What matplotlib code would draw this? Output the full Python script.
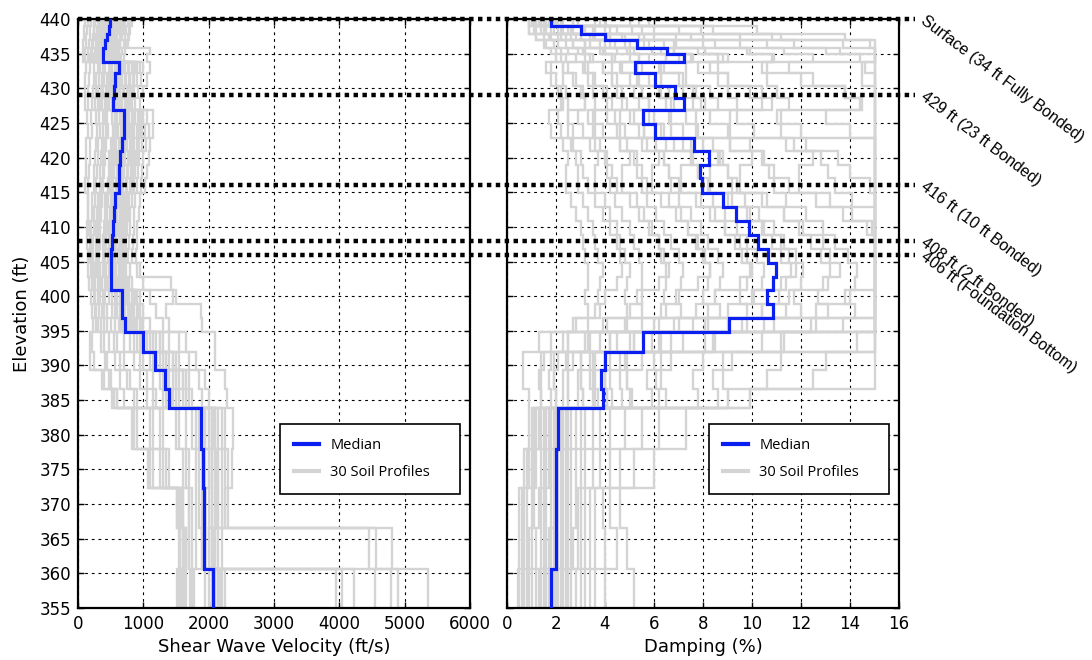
import numpy as np
import matplotlib
matplotlib.use("Agg")
import matplotlib.pyplot as plt
from matplotlib.lines import Line2D
from matplotlib.transforms import blended_transform_factory

# ---------------- data ----------------
# layer boundaries (elevation, ft), top to bottom -> 35 layers
layer_elev = [440, 439, 437.8, 436.9, 435.8, 434.9, 433.8, 432.2, 430.3, 428.6, 426.9,
              424.8, 422.8, 420.9, 418.9, 417, 414.9, 412.9, 410.9, 408.8, 406.8, 404.8,
              402.8, 400.9, 398.8, 396.9, 394.9, 392.0, 389.4, 386.6, 383.8, 377.9,
              372.3, 366.5, 360.6, 355]

vs_median = [490, 470, 440, 410, 390, 385, 628, 570, 545, 540, 704, 704, 669, 640, 630, 625,
             560, 545, 535, 520, 510, 505, 500, 679, 670, 720, 990, 1179, 1332, 1398,
             1883, 1919, 1935, 1935, 2072]

damp_median = [1.78, 3.02, 4.01, 5.29, 6.52, 7.24, 5.22, 6.04, 6.86, 7.24, 5.54, 6.04, 7.63,
               8.26, 7.88, 7.94, 8.83, 9.35, 9.89, 10.26, 10.67, 10.98, 10.87, 10.6, 10.87,
               9.07, 5.56, 4.0, 3.84, 3.9, 2.09, 2.0, 2.0, 2.0, 1.8]

vs_profiles = [
    [150,140,130,120,110,100, 180,170,160,150,200,210,190,180,170,160, 150,150,140,140,150,160,170, 200,210,230,180,190,360,520, 822,1077,1510,1550,1520],
    [250,240,230,210,200,190, 300,280,270,260,320,330,310,300,290,280, 260,250,240,230,230,240,260, 300,320,350,400,450,500,600, 900,1150,1550,1600,1580],
    [350,330,310,290,280,270, 420,400,380,370,450,460,430,410,400,390, 360,350,340,330,320,330,360, 420,450,500,600,700,800,900, 1300,1400,1600,1650,1620],
    [420,400,380,360,340,330, 500,470,450,430,560,570,530,510,500,490, 440,430,420,410,400,410,440, 520,560,620,800,950,1050,1150, 1550,1650,1700,1700,1750],
    [480,460,440,420,400,390, 600,560,540,520,650,660,620,600,590,580, 520,510,500,490,480,490,520, 640,660,700,950,1150,1300,1350, 1800,1850,1850,1900,2000],
    [550,530,500,480,460,450, 650,610,590,570,720,730,690,660,650,640, 570,560,550,540,530,540,560, 700,720,760,1050,1250,1400,1450, 1900,1950,1950,1950,2100],
    [600,580,560,540,520,500, 720,680,650,620,780,790,750,720,700,690, 620,600,590,580,570,580,610, 760,800,850,1150,1350,1500,1550, 2000,2050,2050,2000,3950],
    [650,630,600,580,560,550, 780,740,700,680,840,860,820,790,770,750, 680,660,650,640,630,640,680, 850,900,950,1250,1450,1600,1650, 2100,2150,2150,2100,4220],
    [720,700,680,650,630,620, 850,800,770,740,920,940,900,860,840,820, 740,720,710,700,690,700,740, 950,1000,1100,1400,1550,1700,1750, 2150,2200,2200,2150,4550],
    [800,780,760,740,720,700, 950,900,860,830,1000,1020,980,940,920,900, 820,800,790,780,770,790,830, 1100,1200,1300,1550,1700,1850,1900, 2250,2300,2250,4450,4790],
    [820,800,780,760,1100,1050, 1100,1050,1000,950,1150,1150,1100,1080,1050,1030, 950,930,910,900,890,950,1000, 1500,1880,1900,2100,2100,2250,2280, 2380,2350,2300,4560,4900],
    [300,290,280,270,260,250, 380,360,350,340,420,430,400,390,380,370, 330,320,310,300,300,310,330, 380,400,450,550,650,750,850, 1250,1350,1600,1650,1650],
    [200,190,180,170,160,150, 250,240,230,220,280,290,270,260,250,240, 220,210,200,200,200,210,230, 260,280,300,350,420,480,550, 1100,1250,1550,1600,1580],
    [100,90,85,80,80,75, 120,110,100,100,140,150,130,120,120,110, 150,160,170,180,190,200,210, 240,260,280,220,250,400,600, 850,1100,1520,1560,1540],
    [380,370,360,350,340,330, 560,530,500,480,600,610,580,560,550,540, 500,490,480,470,460,470,500, 600,640,680,900,1100,1250,1300, 1750,1800,1800,1800,4040],
    [460,440,420,400,390,380, 680,640,610,590,740,750,720,690,670,650, 600,590,580,570,560,570,600, 730,760,800,1000,1200,1350,1400, 1950,2000,2000,4800,5350],
    [520,500,480,460,450,440, 580,560,540,520,680,690,650,630,620,600, 560,550,540,530,520,530,560, 680,700,740,1000,1200,1350,1400, 1850,1900,1900,1900,1950],
    [560,540,520,500,480,470, 700,660,640,610,760,770,740,710,690,680, 610,600,590,580,570,580,620, 740,780,820,1100,1300,1450,1500, 1950,2000,1950,1950,2050],
    [400,380,370,360,350,340, 620,600,580,560,700,720,690,660,640,630, 540,530,520,510,500,510,540, 660,690,720,980,1180,1330,1400, 1880,1920,1930,1930,2070],
    [440,420,400,380,370,360, 640,600,570,550,720,700,680,650,630,620, 550,540,530,520,510,520,550, 670,690,730,990,1190,1340,1400, 1890,1930,1940,1940,2080],
    [480,450,430,410,390,380, 610,580,560,540,690,700,670,640,620,610, 570,560,550,530,520,520,500, 690,700,720,1000,1200,1320,1390, 1870,1910,1930,1930,2060],
    [500,480,460,430,420,400, 660,620,600,560,710,720,690,660,640,630, 580,570,560,540,530,530,510, 700,710,740,1010,1180,1350,1420, 1900,1930,1950,1950,2090],
    [330,320,310,300,290,280, 470,450,430,410,520,530,500,480,470,460, 420,410,400,390,380,390,420, 480,520,560,700,850,950,1050, 1500,1600,1700,1700,1720],
    [620,600,580,560,540,530, 820,780,750,720,880,900,860,830,810,790, 700,690,680,670,660,670,700, 820,860,900,1200,1400,1550,1600, 2050,2100,2100,2050,2150],
    [700,680,660,640,620,600, 900,860,820,790,960,980,940,900,880,860, 780,760,750,740,730,740,780, 900,950,1000,1300,1500,1650,1700, 2100,2150,2150,2100,2200],
    [760,740,720,700,680,660, 1000,960,920,880,1050,1080,1040,1000,980,960, 880,860,850,840,830,900,1430, 1450,1350,1400,1650,1800,1950,2000, 2200,2250,2250,2200,2250],
    [260,250,240,230,220,210, 340,320,310,300,380,390,360,350,340,330, 300,290,280,270,270,280,300, 340,360,400,480,560,650,700, 1150,1300,1580,1620,1600],
    [580,560,540,520,500,490, 760,720,690,660,820,830,800,770,750,730, 650,640,630,620,610,620,650, 780,820,870,1150,1350,1500,1550, 2000,2050,2050,2000,2100],
    [680,660,640,610,590,580, 880,840,800,770,940,960,920,880,860,840, 760,740,730,720,710,720,760, 880,930,980,1250,1450,1600,1650, 2080,2120,2120,2080,2180],
    [360,350,340,330,320,310, 520,500,480,460,570,580,550,530,520,510, 460,450,440,430,420,430,460, 560,600,640,850,1000,1150,1200, 1650,1700,1750,1750,1780],
]

damp_profiles = [
    [0.9,0.9,1.2,1.6,2.0,2.2,1.6,1.8,2.1,2.2, 1.7,1.8,2.3,2.5,2.4,2.4,2.6,2.8,3.0,3.1, 3.2,3.3,3.3,3.2,3.3,2.7, 1.3,0.65,0.65,0.9, 0.9,0.7,0.5,0.5,0.45],
    [1.0,1.1,1.5,1.9,2.2,2.4,2.3,2.3,2.4,2.5, 2.5,2.5,2.7,2.8,2.9,2.9,3.1,3.3,3.5,3.6, 3.7,3.9,3.8,3.7,3.8,3.3, 2.3,1.5,1.3,1.4, 1.0,0.8,0.6,0.6,0.5],
    [0.9,0.9,1.2,1.5,1.8,2.0,1.8,2.0,2.2,2.3, 2.1,2.2,2.6,3.0,3.1,3.3,3.6,3.9,4.2,4.5, 4.6,4.7,4.5,4.0,3.6,2.8, 1.8,1.4,1.4,1.4, 1.1,0.9,0.7,0.7,0.6],
    [1.1,1.4,1.8,2.4,2.9,3.2,2.3,2.7,3.1,3.2, 2.5,2.7,3.4,3.7,3.6,3.6,4.0,4.2,4.5,4.6, 4.8,5.0,4.9,4.8,4.9,4.1, 2.5,1.8,1.7,1.8, 1.2,1.0,0.8,0.8,0.7],
    [0.9,1.6,2.2,2.7,3.1,3.4,3.3,3.3,3.5,3.6, 3.5,3.5,3.8,4.0,4.1,4.2,4.4,4.7,5.0,5.2, 5.4,5.5,5.5,5.3,5.5,4.8, 3.3,2.1,1.9,2.0, 1.3,1.1,1.0,0.9,0.8],
    [1.2,1.2,1.7,2.1,2.5,2.8,2.5,2.8,3.0,3.2, 2.9,3.1,3.6,4.1,4.3,4.5,5.0,5.4,5.8,6.2, 6.3,6.5,6.2,5.5,5.0,3.9, 2.5,1.9,1.9,2.0, 1.4,1.2,1.1,1.0,0.9],
    [1.1,1.8,2.4,3.2,3.9,4.3,3.1,3.6,4.1,4.3, 3.3,3.6,4.6,5.0,4.7,4.7,5.3,5.6,5.9,6.2, 6.4,6.6,6.5,6.4,6.5,5.5, 3.4,2.4,2.3,2.3, 1.5,1.4,1.3,1.2,1.0],
    [1.2,2.1,2.8,3.4,4.0,4.4,4.3,4.3,4.5,4.7, 4.6,4.6,4.9,5.2,5.3,5.5,5.7,6.1,6.4,6.7, 7.0,7.2,7.1,6.9,7.1,6.2, 4.2,2.7,2.5,2.5, 1.6,1.5,1.4,1.4,1.2],
    [1.1,1.5,2.1,2.7,3.2,3.5,3.2,3.5,3.9,4.1, 3.6,3.9,4.6,5.3,5.5,5.7,6.3,6.9,7.4,7.8, 8.1,8.3,7.8,7.0,6.3,4.9, 3.2,2.5,2.5,2.5, 1.7,1.6,1.5,1.5,1.3],
    [1.4,2.3,3.0,4.0,4.9,5.4,3.9,4.5,5.2,5.4, 4.1,4.5,5.7,6.2,5.9,5.9,6.6,7.1,7.4,7.7, 8.0,8.3,8.2,8.0,8.2,6.8, 4.2,3.0,2.9,2.9, 1.8,1.7,1.6,1.6,1.4],
    [1.4,2.6,3.4,4.2,5.0,5.4,5.3,5.3,5.5,5.8, 5.6,5.6,6.1,6.4,6.6,6.7,7.0,7.5,7.9,8.2, 8.6,8.8,8.7,8.5,8.7,7.6, 5.2,3.4,3.0,3.1, 1.9,1.8,1.8,1.7,1.5],
    [1.3,1.9,2.6,3.2,3.8,4.3,3.9,4.3,4.7,4.9, 4.4,4.8,5.5,6.4,6.6,7.0,7.7,8.3,8.9,9.5, 9.8,10.0,9.5,8.5,7.7,6.0, 3.8,3.0,3.0,3.1, 2.0,1.9,1.9,1.8,1.6],
    [1.6,2.7,3.6,4.8,5.9,6.5,4.7,5.4,6.2,6.5, 5.0,5.4,6.8,7.5,7.1,7.1,7.9,8.5,8.9,9.3, 9.6,9.9,9.8,9.5,9.8,8.2, 5.0,3.6,3.4,3.5, 2.0,1.9,2.0,1.9,1.7],
    [1.7,3.0,4.1,5.0,5.9,6.5,6.3,6.3,6.6,6.8, 6.7,6.7,7.2,7.6,7.8,8.0,8.4,8.9,9.4,9.8, 10.2,10.5,10.4,10.1,10.4,9.0, 6.2,4.0,3.6,3.7, 2.1,2.0,2.0,2.0,1.8],
    [1.5,2.2,3.0,3.8,4.5,5.0,4.6,5.0,5.5,5.8, 5.2,5.6,6.5,7.5,7.8,8.2,9.0,9.8,10.5,11.2, 11.5,11.8,11.2,10.0,9.0,7.0, 4.5,3.5,3.5,3.6, 2.1,2.0,2.0,2.0,1.8],
    [1.9,3.2,4.2,5.6,6.8,7.6,5.5,6.3,7.2,7.6, 5.8,6.3,8.0,8.7,8.3,8.3,9.2,9.9,10.4,10.8, 11.2,11.6,11.4,11.1,11.4,9.6, 5.9,4.2,4.0,4.1, 2.2,2.1,2.1,2.1,1.9],
    [2.0,3.5,4.7,5.8,6.8,7.5,7.3,7.3,7.6,7.9, 7.7,7.7,8.4,8.8,9.0,9.2,9.7,10.3,10.9,11.3, 11.8,12.1,12.0,11.7,12.0,10.5, 7.2,4.6,4.2,4.3, 2.3,2.2,2.2,2.2,2.0],
    [1.7,2.5,3.5,4.4,5.2,5.8,5.3,5.8,6.3,6.7, 6.0,6.4,7.5,8.6,9.0,9.4,10.4,11.3,12.1,12.9, 13.2,13.6,12.9,11.5,10.4,8.1, 5.2,4.0,4.0,4.1, 2.4,2.3,2.3,2.3,2.1],
    [2.2,3.6,4.8,6.4,7.8,8.6,6.2,7.2,8.3,8.6, 6.6,7.2,9.1,10.0,9.5,9.5,10.6,11.3,11.9,12.4, 12.8,13.2,13.1,12.7,13.1,10.9, 6.7,4.8,4.6,4.7, 2.5,2.4,2.4,2.4,2.2],
    [2.3,4.2,5.6,6.9,8.1,8.8,8.6,8.6,9.0,9.4, 9.1,9.1,9.9,10.4,10.7,10.9,11.4,12.2,12.9,13.4, 13.9,14.3,14.2,13.8,14.2,12.4, 8.5,5.5,4.9,5.1, 2.6,2.5,2.5,2.5,2.3],
    [2.1,3.1,4.2,5.3,6.3,7.0,6.4,7.0,7.7,8.1, 7.3,7.8,9.1,10.5,10.9,11.5,12.6,13.7,14.7,15, 15,15,15,14.0,12.6,9.8, 6.3,4.9,4.9,5.0, 2.8,2.6,2.6,2.6,2.4],
    [2.7,4.5,6.0,8.0,9.8,10.8,7.8,9.0,10.4,10.8, 8.3,9.0,11.4,12.5,11.9,11.9,13.2,14.1,14.9,15, 15,15,15,15,15,13.7, 8.4,6.0,5.7,5.9, 3.0,2.8,2.8,2.7,2.5],
    [2.9,5.1,6.9,8.5,9.9,10.9,10.6,10.6,11.0,11.5, 11.2,11.2,12.2,12.8,13.1,13.4,14.1,15,15,15, 15,15,15,15,15,15, 10.4,6.7,6.1,6.2, 3.2,3.0,2.9,2.9,2.6],
    [2.7,4.0,5.4,6.8,8.1,9.0,8.3,9.0,9.9,10.4, 9.4,10.1,11.7,13.5,14.0,14.8,15,15,15,15, 15,15,15,15,15,12.6, 8.1,6.3,6.3,6.5, 3.5,3.2,3.0,3.0,2.8],
    [3.6,6.0,8.0,10.6,13.0,14.4,10.4,12.0,13.8,14.4, 11.0,12.0,15,15,15,15,15,15,15,15, 15,15,15,15,15,15, 11.2,8.0,7.6,7.8, 3.8,3.5,3.2,3.2,3.0],
    [4.0,7.0,9.5,11.7,13.6,15,14.5,14.5,15,15, 15,15,15,15,15,15,15,15,15,15, 15,15,15,15,15,15, 14.3,9.2,8.4,8.6, 4.2,3.8,3.4,3.4,3.2],
    [3.8,5.5,7.5,9.5,11.3,12.5,11.5,12.5,13.8,14.5, 13.0,14.0,15,15,15,15,15,15,15,15, 15,15,15,15,15,15, 11.3,8.8,8.8,9.0, 4.8,4.2,3.6,3.6,3.4],
    [5.0,8.4,11.2,14.8,15,15,14.6,15,15,15, 15,15,15,15,15,15,15,15,15,15, 15,15,15,15,15,15, 15,11.2,10.6,9.9, 5.5,4.6,3.9,4.0,3.6],
    [5.8,10.2,13.8,15,15,15,15,15,15,15, 15,15,15,15,15,15,15,15,15,15, 15,15,15,15,15,15, 15,15,15,9.9, 6.2,5.2,4.2,4.5,4.0],
    [5.4,7.9,10.8,13.7,15,15,15,15,15,15, 15,15,15,15,15,15,15,15,15,15, 15,15,15,15,15,15, 15,13.0,12.5,9.0, 7.3,6.0,4.6,4.9,5.2],
]

marker_elev = [440, 429, 416, 408, 406]
marker_labels = ["Surface (34 ft Fully Bonded)", "429 ft (23 ft Bonded)",
                 "416 ft (10 ft Bonded)", "408 ft (2 ft Bonded)",
                 "406 ft (Foundation Bottom)"]

vs_ticks = [0, 1000, 2000, 3000, 4000, 5000, 6000]
damp_ticks = [0, 2, 4, 6, 8, 10, 12, 14, 16]
elev_ticks = list(range(355, 441, 5))

# ---------------- plotting ----------------
BLUE = "#0a1ff0"
GRAY = "#d4d4d4"

W, H = 1092, 660
fig = plt.figure(figsize=(W / 100, H / 100), dpi=100)
ax1 = fig.add_axes([78 / W, 52 / H, 392 / W, 589 / H])
ax2 = fig.add_axes([507 / W, 52 / H, 392 / W, 589 / H])

edges = np.repeat(np.array(layer_elev, dtype=float), 2)[1:-1]


def step_xy(vals):
    return np.repeat(np.array(vals, dtype=float), 2), edges


for ax, profiles, med, ticks, xlim, xlabel in [
        (ax1, vs_profiles, vs_median, vs_ticks, (0, 6000), "Shear Wave Velocity (ft/s)"),
        (ax2, damp_profiles, damp_median, damp_ticks, (0, 16), "Damping (%)")]:
    for prof in profiles:
        assert len(prof) == len(layer_elev) - 1
        x, y = step_xy(prof)
        ax.plot(x, y, color=GRAY, lw=1.7, zorder=2, solid_joinstyle="miter")
    x, y = step_xy(med)
    ax.plot(x, y, color=BLUE, lw=2.3, zorder=3, solid_joinstyle="miter")
    ax.set_xlim(*xlim)
    ax.set_ylim(355, 440)
    ax.set_xticks(ticks)
    ax.set_yticks(elev_ticks)
    ax.grid(True, color="black", linestyle=(0, (2.5, 3.5)), linewidth=0.8)
    ax.tick_params(direction="in", top=True, right=True, length=4, width=1,
                   labelsize=12, pad=5)
    for sp in ax.spines.values():
        sp.set_linewidth(1.6)
    ax.set_xlabel(xlabel, fontsize=13, labelpad=4)
    handles = [Line2D([], [], color=BLUE, lw=3), Line2D([], [], color=GRAY, lw=3)]
    leg = ax.legend(handles, ["Median", "30 Soil Profiles"], loc="upper left",
                    bbox_to_anchor=(0.515, 0.312, 0.459, 0.0), mode="expand",
                    borderaxespad=0, fancybox=False, edgecolor="black", framealpha=1,
                    prop={"family": "Open Sans", "size": 10.5}, handlelength=1.7,
                    handletextpad=0.8, borderpad=0.95, labelspacing=0.8)
    leg.get_frame().set_linewidth(1.2)

ax1.set_ylabel("Elevation (ft)", fontsize=13, labelpad=6)
ax2.tick_params(labelleft=False)

trans = blended_transform_factory(fig.transFigure, ax1.transData)
x0 = ax1.get_position().x0
x1 = ax2.get_position().x1 + 16 / W
for e, lab in zip(marker_elev, marker_labels):
    fig.add_artist(Line2D([x0, x1], [e, e], transform=trans, color="black", lw=3.2,
                          linestyle=(0, (1, 1)), zorder=10, clip_on=False))
    fig.text(x1 + 8 / W, e, lab, transform=trans, rotation=-37, rotation_mode="anchor",
             ha="left", va="center", fontsize=11.5, family="Liberation Sans")

fig.savefig("out.png", dpi=100)
